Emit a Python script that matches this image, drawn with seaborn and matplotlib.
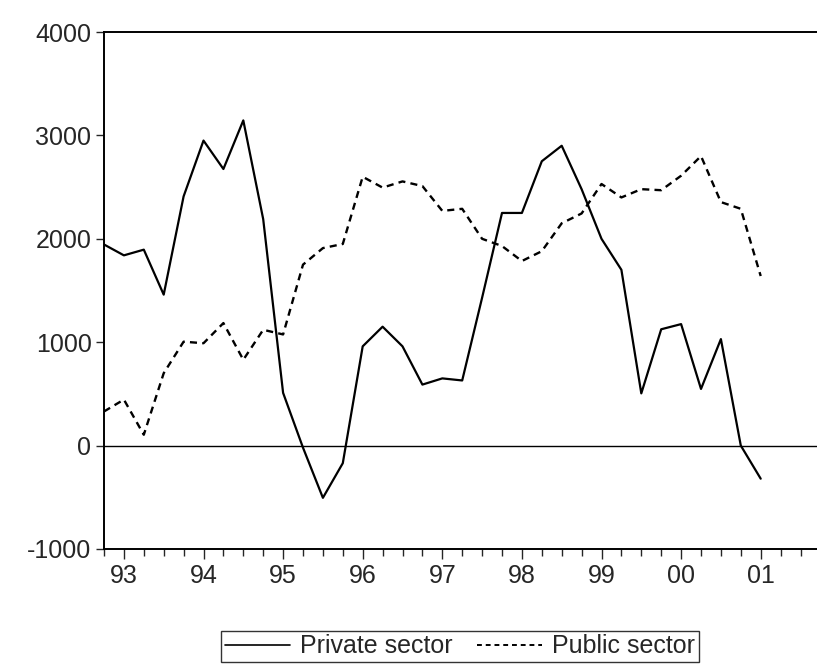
import numpy as np
import pandas as pd
import matplotlib
matplotlib.use("Agg")
import matplotlib.pyplot as plt
import seaborn as sns
from matplotlib.lines import Line2D

# quarterly observations, 1992Q4 .. 2001Q1
quarters = [f"{y}Q{q}" for y in range(1992, 2002) for q in range(1, 5)][3:37]

private_sector = [1945, 1840, 1895, 1460, 2410, 2950, 2675, 3145, 2190, 510,
                  -20, -505, -170, 960, 1150, 960, 590, 650, 630, 1430,
                  2250, 2250, 2750, 2900, 2480, 2000, 1700, 505, 1125, 1175,
                  548, 1030, 0, -320]
public_sector = [330, 445, 105, 700, 1005, 990, 1185, 830, 1120, 1075,
                 1750, 1910, 1950, 2600, 2495, 2555, 2510, 2270, 2290, 2000,
                 1930, 1785, 1880, 2150, 2245, 2530, 2400, 2480, 2470, 2610,
                 2800, 2355, 2290, 1640]

year_labels = ["93", "94", "95", "96", "97", "98", "99", "00", "01"]
y_ticks = [-1000, 0, 1000, 2000, 3000, 4000]

df = pd.DataFrame({
    "t": np.arange(len(quarters)),
    "quarter": quarters,
    "Private sector": private_sector,
    "Public sector": public_sector,
})

sns.set_style("ticks")
plt.rcParams["font.family"] = ["Liberation Sans", "DejaVu Sans"]

fig = plt.figure(figsize=(8.17, 6.64), dpi=100)
ax = fig.add_axes([104 / 817, 115 / 664, 37 * 19.9 / 817, 517 / 664])

sns.lineplot(data=df, x="t", y="Private sector", ax=ax, color="black",
             lw=1.6, linestyle="-")
sns.lineplot(data=df, x="t", y="Public sector", ax=ax, color="black",
             lw=1.7, linestyle=(0, (3.0, 2.2)))
ax.axhline(0, color="black", lw=1.0)

ax.set_xlim(0, 37)
ax.set_ylim(-1000, 4000)
ax.set_yticks(y_ticks)
ax.set_yticklabels([str(v) for v in y_ticks])

major = [i for i, q in enumerate(quarters) if q.endswith("Q1")]
ax.set_xticks(major)
ax.set_xticklabels(year_labels)
ax.set_xticks(np.arange(0, 37), minor=True)
ax.tick_params(axis="x", which="major", length=7, width=1, labelsize=18, pad=4)
ax.tick_params(axis="x", which="minor", length=5, width=1)
ax.tick_params(axis="y", length=6, width=1, labelsize=18, pad=3)

ax.set_xlabel("")
ax.set_ylabel("")
for s in ["left", "bottom", "top"]:
    ax.spines[s].set_linewidth(1.4)
    ax.spines[s].set_color("black")
ax.spines["right"].set_visible(False)

handles = [
    Line2D([], [], color="black", lw=1.2, linestyle="-"),
    Line2D([], [], color="black", lw=1.4, linestyle=(0, (2.5, 2.0))),
]
leg = fig.legend(handles, ["Private sector", "Public sector"], ncol=2,
                 loc="lower center", bbox_to_anchor=(460 / 817, 0.003),
                 frameon=True, fancybox=False, fontsize=18,
                 handlelength=2.6, handletextpad=0.4, columnspacing=1.0,
                 borderpad=0.15, borderaxespad=0)
leg.get_frame().set_edgecolor("black")
leg.get_frame().set_linewidth(1.0)

fig.savefig("out.png", dpi=100)
